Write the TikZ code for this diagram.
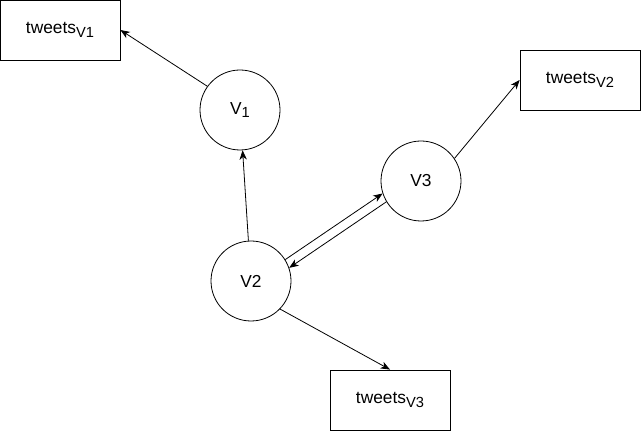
\documentclass[tikz,border=0pt]{standalone}
\usepackage{fontspec}
\setmainfont{Liberation Sans}
\usetikzlibrary{arrows.meta}
\tikzset{
  vert/.style={draw,circle,minimum size=60pt,inner sep=0pt,line width=0.6pt,font=\fontsize{13}{15}\selectfont},
  tweetbox/.style={draw,rectangle,minimum width=90pt,minimum height=45pt,inner sep=0pt,line width=0.6pt,font=\fontsize{13}{15}\selectfont},
  link/.style={line width=0.6pt,-{Stealth[length=7pt,width=5.5pt,inset=2pt]}}
}
\newcommand{\subv}[1]{\raisebox{-0.35ex}{\fontsize{11}{13}\selectfont #1}}
\begin{document}
\begin{tikzpicture}[x=0.75pt,y=-0.75pt]
        \useasboundingbox (0,0) rectangle (642,434);
        \node[tweetbox] (tv1) at (60,30) {tweets\subv{V1}};
        \node[tweetbox] (tv2) at (580,80) {tweets\subv{V2}};
        \node[tweetbox] (tv3) at (390,400) {tweets\subv{V3}};
        \node[vert] (v1) at (240,110) {V\subv{1}};
        \node[vert] (v2) at (251,281) {V2};
        \node[vert] (v3) at (421,181) {V3};
       \draw[link] (v1.144)--(tv1.east);
       \draw[link] (v2)--(v1);
       \draw[link] (v3.34)--(tv2.west);
       \draw[link] (v2.-44)--(tv3.north);
       \draw[link] (v2.32)--(v3.198);
       \draw[link] (v3.211)--(v2.19);
    \end{tikzpicture}
\end{document}
